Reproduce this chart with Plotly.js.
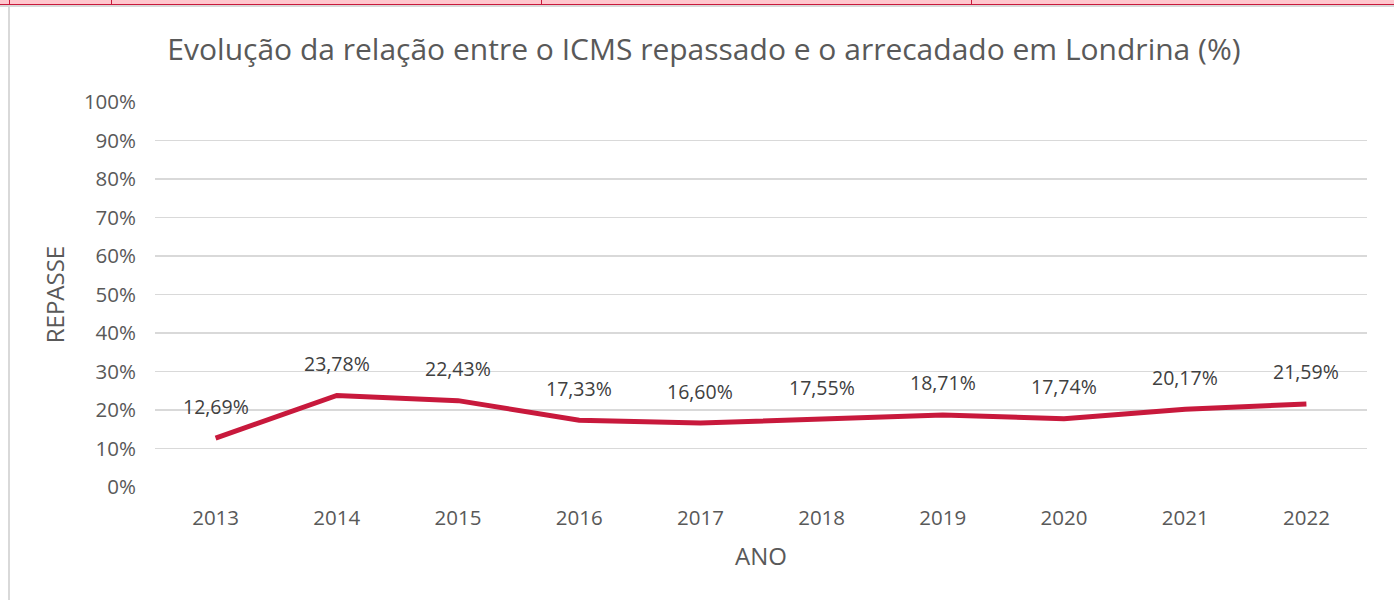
<!DOCTYPE html>
<html>
<head>
<meta charset="utf-8">
<script src="https://cdn.plot.ly/plotly-3.0.1.min.js"></script>
<style>
html,body{margin:0;padding:0;background:#fff;width:1394px;height:600px;overflow:hidden;}
#strip{position:absolute;left:0;top:0;width:1394px;height:4px;background:#FFC7CE;border-bottom:1px solid #C8193C;}
.cellv{position:absolute;top:0;width:1px;height:5px;background:#C8193C;}
#sep{position:absolute;left:0;top:5px;width:1394px;height:2px;background:#d9d9d9;}
#lb{position:absolute;left:8px;top:6px;width:2px;height:594px;background:#d9d9d9;}
#chart{position:absolute;left:0;top:0;width:1394px;height:600px;}
</style>
</head>
<body>
<div id="chart"></div>
<div id="strip"></div>
<div class="cellv" style="left:9px"></div>
<div class="cellv" style="left:111px"></div>
<div class="cellv" style="left:541px"></div>
<div class="cellv" style="left:971px"></div>
<div id="sep"></div>
<div id="lb"></div>
<script>
const years = ['2013','2014','2015','2016','2017','2018','2019','2020','2021','2022'];
const repasse = [0.1269, 0.2378, 0.2243, 0.1733, 0.1660, 0.1755, 0.1871, 0.1774, 0.2017, 0.2159];
const yTicks = [0,0.1,0.2,0.3,0.4,0.5,0.6,0.7,0.8,0.9,1.0];

const fontFam = '"Open Sans", "Noto Sans", sans-serif';
const annotations = years.map((yr, i) => ({
  x: i, y: repasse[i], xref: 'x', yref: 'y',
  text: (repasse[i]*100).toFixed(2).replace('.', ',') + '%',
  showarrow: false, yshift: 32, yanchor: 'middle', xanchor: 'center',
  font: {family: fontFam, size: 19.5, color: '#404040'}
}));

Plotly.newPlot('chart', [{
  x: years, y: repasse, type: 'scatter', mode: 'lines',
  line: {color: '#C8193C', width: 5},
  hoverinfo: 'skip'
}], {
  width: 1394, height: 600,
  margin: {l: 155, r: 27, t: 102, b: 113},
  paper_bgcolor: '#fff', plot_bgcolor: '#fff',
  separators: ',.',
  title: {text: 'Evolução da relação entre o ICMS repassado e o arrecadado em Londrina (%)',
    font: {family: fontFam, size: 30, color: '#595959'}, x: 0.505, xanchor: 'center', y: 0.917, yanchor: 'middle'},
  xaxis: {type: 'category', range: [-0.5, 9.5], showgrid: false, zeroline: false, showline: false,
    ticks: '', ticklabelstandoff: 16,
    tickfont: {family: fontFam, size: 20.5, color: '#595959'},
    title: {text: 'ANO', font: {family: fontFam, size: 24, color: '#595959'}, standoff: 18}},
  yaxis: {range: [0, 1], tickvals: yTicks, tickformat: '.0%', showgrid: true, gridcolor: '#d9d9d9', gridwidth: 1.5,
    zeroline: false, showline: false, ticks: '', ticklabelstandoff: 18,
    tickfont: {family: fontFam, size: 20.5, color: '#595959'},
    title: {text: 'REPASSE', font: {family: fontFam, size: 24, color: '#595959'}, standoff: 12}},
  annotations: annotations,
  showlegend: false
}, {displayModeBar: false, staticPlot: true});
</script>
</body>
</html>
